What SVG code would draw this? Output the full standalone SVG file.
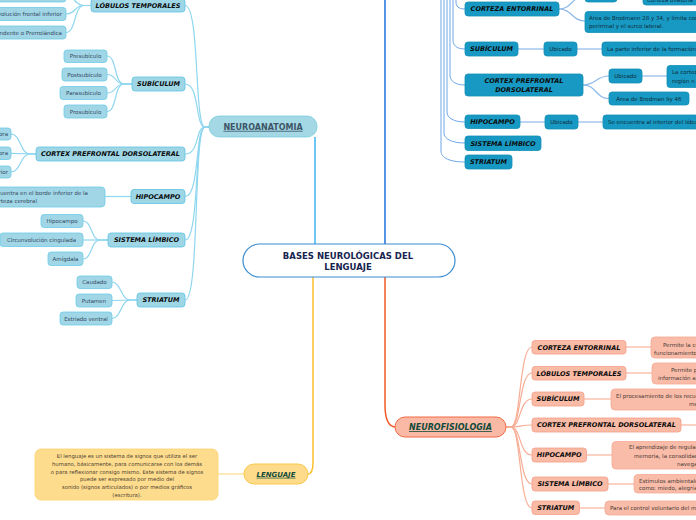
<svg xmlns="http://www.w3.org/2000/svg" width="696" height="520" viewBox="0 0 696 520">
<style>
text{font-family:"DejaVu Sans",Verdana,sans-serif}
.lb{fill:#9ed6e6;stroke:#5ec4e6;stroke-width:0.8}
.lg{fill:#a0d6e6;stroke:#6ccbe8;stroke-width:0.8}
.tl{fill:#1899c3;stroke:#1391b8;stroke-width:0.8}
.pk{fill:#f9baa6;stroke:#f4a088;stroke-width:0.8}
.pg{fill:#f9bca9;stroke:#f6aa92;stroke-width:0.8}
.ch{font-size:6.5px;font-weight:bold;font-style:italic;fill:#0b0b0b;text-anchor:middle}
.g{font-size:5.5px;fill:#34495e;text-anchor:middle}
.gs{font-size:5.5px;fill:#34495e}
.gt{font-size:5.5px;fill:#0e2c3a}
.gp{font-size:5.5px;fill:#4a3a35}
.cb{fill:none;stroke:#8fd6ef;stroke-width:1.2}
.ct{fill:none;stroke:#8bb8e8;stroke-width:1.2}
.cv{fill:none;stroke:#5d9ce6;stroke-width:0.9}
.cp{fill:none;stroke:#f8ae96;stroke-width:1.2}
.cq{fill:none;stroke:#f9c2ae;stroke-width:1.5}
</style>
<rect width="696" height="520" fill="#ffffff"/>
<g id="connectors">
<path d="M315,244 L315,137" fill="none" stroke="#3db3ef" stroke-width="1.5"/>
<path d="M385,244 L385,-5" fill="none" stroke="#1f6fdc" stroke-width="1.5"/>
<path d="M385,277 L385,405 C385,420 389,427 396,427" fill="none" stroke="#f25a27" stroke-width="1.5"/>
<path d="M313,277 L313,462 C313,470 311,474 308,474" fill="none" stroke="#fbc02d" stroke-width="1.5"/>
<path class="cb" d="M209,127 L205,127 C194,127 200,5.5 185,5.5"/>
<path class="cb" d="M209,127 L205,127 C195,127 200,84 185,84"/>
<path class="cb" d="M209,127 L205,127 C195,127 200,154 185,154"/>
<path class="cb" d="M209,127 L205,127 C195,127 200,196.5 185,196.5"/>
<path class="cb" d="M209,127 L205,127 C194,127 200,240 185,240"/>
<path class="cb" d="M209,127 L205,127 C193,127 200,300 185,300"/>
<path class="cb" d="M91,5.5 L84,5.5 C74,5.5 76,-4 66,-4"/>
<path class="cb" d="M91,5.5 L84,5.5 C74,5.5 76,14 66,14"/>
<path class="cb" d="M91,5.5 L84,5.5 C74,5.5 76,32.5 66,32.5"/>
<path class="cb" d="M132,84 L124,84 C114,84 117,56 107,56"/>
<path class="cb" d="M132,84 L124,84 C114,84 117,74.5 107,74.5"/>
<path class="cb" d="M132,84 L124,84 C114,84 117,93 107,93"/>
<path class="cb" d="M132,84 L124,84 C114,84 117,111.5 107,111.5"/>
<path class="cb" d="M36,154 L30,154 C20,154 21,134 11,134"/>
<path class="cb" d="M36,154 L11,153.3"/>
<path class="cb" d="M36,154 L30,154 C20,154 21,172 11,172"/>
<path class="cb" d="M131,196.5 L105,196.5"/>
<path class="cb" d="M108,240 L100,240 C91,240 92,221 83,221"/>
<path class="cb" d="M108,240 L83,240"/>
<path class="cb" d="M108,240 L100,240 C91,240 92,259 83,259"/>
<path class="cb" d="M137,300 L130,300 C121,300 121,282 112,282"/>
<path class="cb" d="M137,300 L112,300.5"/>
<path class="cb" d="M137,300 L130,300 C121,300 121,318.5 112,318.5"/>
<path class="cv" d="M456,-5 L456,2 C456,6 458,9 465,9"/>
<path class="cv" d="M453,-5 L453,40 C453,45 456,49 465,49"/>
<path class="cv" d="M450,-5 L450,75 C450,81 455,85 465,85"/>
<path class="cv" d="M447,-5 L447,112 C447,118 454,122 465,122"/>
<path class="cv" d="M444,-5 L444,133 C444,139 452,143 465,143"/>
<path class="cv" d="M441,-5 L441,151 C441,158 450,162 465,162"/>
<path class="ct" d="M559,9 C572,9 572,-4 585,-4"/>
<path class="ct" d="M559,9 C572,9 572,21 585,21"/>
<path class="ct" d="M617,-4 L643,-4"/>
<path class="ct" d="M517,49 L544,49"/>
<path class="ct" d="M577,49 L602,49"/>
<path class="ct" d="M583,85 C596,85 596,76 609,76"/>
<path class="ct" d="M583,85 C596,85 596,98.5 609,98.5"/>
<path class="ct" d="M642,76 L667,76"/>
<path class="ct" d="M520,122 L545,122"/>
<path class="ct" d="M578,122 L603,122"/>
<path class="cp" d="M506,427 L511,427 C521,427 519,347 532,347"/>
<path class="cp" d="M506,427 L511,427 C521,427 519,373 532,373"/>
<path class="cp" d="M506,427 L511,427 C521,427 519,399 532,399"/>
<path class="cp" d="M506,427 L511,427 C521,427 519,425 532,425"/>
<path class="cp" d="M506,427 L511,427 C521,427 519,455 532,455"/>
<path class="cp" d="M506,427 L511,427 C521,427 519,484 532,484"/>
<path class="cp" d="M506,427 L511,427 C521,427 519,508 532,508"/>
<path class="cq" d="M626,347 L651,347"/>
<path class="cq" d="M626,373 L652,373"/>
<path class="cq" d="M584,399 L611,399"/>
<path class="cq" d="M681,425 L696,425"/>
<path class="cq" d="M586,455 L612,455"/>
<path class="cq" d="M608,484 L634,484"/>
<path class="cq" d="M580,508 L605,508"/>
<path d="M244,474 L218,474" fill="none" stroke="#fde3a0" stroke-width="1.5"/>
</g>
<g id="central">
<rect x="243" y="244" width="212" height="33" rx="16.5" fill="#ffffff" stroke="#3a8cd0" stroke-width="1.2"/>
<text x="348" y="258.5" text-anchor="middle" font-size="8.5" font-weight="bold" fill="#16244f">BASES NEUROLÓGICAS DEL</text>
<text x="348" y="269.5" text-anchor="middle" font-size="8.5" font-weight="bold" fill="#16244f">LENGUAJE</text>
</g>
<g id="neuroanatomia">
<rect x="209" y="116" width="108" height="21" rx="10" fill="#a3d8e4" stroke="#78cde0" stroke-width="0.8"/>
<text x="263" y="129.8" text-anchor="middle" font-size="8" font-weight="bold" fill="#3d5566" text-decoration="underline">NEUROANATOMIA</text>
</g>
<g id="na-lobulos"><rect class="lb" x="91" y="-1" width="94" height="13" rx="3"/><text class="ch" x="138" y="7.8">LÓBULOS TEMPORALES</text></g>
<g id="na-subiculum"><rect class="lb" x="132" y="77" width="53" height="14" rx="3"/><text class="ch" x="158.5" y="86.3">SUBÍCULUM</text></g>
<g id="na-cpd"><rect class="lb" x="36" y="147" width="149" height="14" rx="3"/><text class="ch" x="110.5" y="156.3">CORTEX PREFRONTAL DORSOLATERAL</text></g>
<g id="na-hipocampo"><rect class="lb" x="131" y="189.5" width="54" height="14" rx="3"/><text class="ch" x="158" y="198.8">HIPOCAMPO</text></g>
<g id="na-limbico"><rect class="lb" x="108" y="233" width="77" height="14" rx="3"/><text class="ch" x="146.5" y="242.3">SISTEMA LÍMBICO</text></g>
<g id="na-striatum"><rect class="lb" x="137" y="293" width="48" height="14" rx="3"/><text class="ch" x="161" y="302.3">STRIATUM</text></g>
<g id="na-lt-1"><rect class="lg" x="-20" y="-10" width="86" height="12" rx="3"/></g>
<g id="na-lt-2"><rect class="lg" x="-40" y="7.5" width="106" height="13" rx="3"/><text class="gs" x="62" y="16" text-anchor="end">Circunvolución frontal inferior</text></g>
<g id="na-lt-3"><rect class="lg" x="-80" y="26" width="146" height="13" rx="3"/><text class="gs" x="62" y="34.5" text-anchor="end">Circunvolución ascendente o Prerrolándica</text></g>
<g id="na-sub-1"><rect class="lg" x="64" y="50" width="43" height="12.5" rx="3"/><text class="g" x="85.5" y="58.2">Presubículo</text></g>
<g id="na-sub-2"><rect class="lg" x="62" y="68" width="45" height="13" rx="3"/><text class="g" x="84.5" y="76.5">Postsubículo</text></g>
<g id="na-sub-3"><rect class="lg" x="60" y="86.5" width="47" height="13" rx="3"/><text class="g" x="83.5" y="95">Parasubículo</text></g>
<g id="na-sub-4"><rect class="lg" x="64" y="105" width="43" height="13" rx="3"/><text class="g" x="85.5" y="113.5">Prosubículo</text></g>
<g id="na-cpd-1"><rect class="lg" x="-60" y="128" width="71" height="12" rx="3"/><text class="gs" x="8" y="136" text-anchor="end">Corteza motora</text></g>
<g id="na-cpd-2"><rect class="lg" x="-60" y="147" width="71" height="12.5" rx="3"/><text class="gs" x="8" y="155.3" text-anchor="end">Corteza premotora</text></g>
<g id="na-cpd-3"><rect class="lg" x="-60" y="166" width="71" height="12" rx="3"/><text class="gs" x="8" y="174" text-anchor="end">Giro frontal superior</text></g>
<g id="na-hip-1"><rect class="lg" x="-40" y="187" width="145" height="20" rx="4"/><text class="gs" x="88" y="194.5" text-anchor="end">Se encuentra en el borde inferior de la</text><text class="gs" x="37" y="203" text-anchor="end">corteza cerebral</text></g>
<g id="na-sl-1"><rect class="lg" x="41" y="214.5" width="42" height="13" rx="3"/><text class="g" x="62" y="223">Hipocampo</text></g>
<g id="na-sl-2"><rect class="lg" x="0" y="233" width="83" height="13.5" rx="3"/><text class="g" x="41.5" y="241.8">Circunvolución cingulada</text></g>
<g id="na-sl-3"><rect class="lg" x="48" y="252" width="35" height="13.5" rx="3"/><text class="g" x="65.5" y="260.8">Amígdala</text></g>
<g id="na-str-1"><rect class="lg" x="77" y="276" width="35" height="12.5" rx="3"/><text class="g" x="94.5" y="284.3">Caudado</text></g>
<g id="na-str-2"><rect class="lg" x="76" y="294" width="36" height="13" rx="3"/><text class="g" x="94" y="302.5">Putamen</text></g>
<g id="na-str-3"><rect class="lg" x="60" y="312" width="52" height="13" rx="3"/><text class="g" x="86" y="320.5">Estriado ventral</text></g>
<g id="tr-entorrinal"><rect class="tl" x="465" y="2" width="94" height="14" rx="3"/><text class="ch" x="512" y="11.3">CORTEZA ENTORRINAL</text></g>
<g id="tr-subiculum"><rect class="tl" x="465" y="42" width="53" height="14" rx="3"/><text class="ch" x="491.5" y="51.3">SUBÍCULUM</text></g>
<g id="tr-cpd"><rect class="tl" x="465" y="74" width="118" height="22" rx="3"/><text class="ch" x="524" y="83.3">CORTEX PREFRONTAL</text><text class="ch" x="524" y="92">DORSOLATERAL</text></g>
<g id="tr-hipocampo"><rect class="tl" x="465" y="115" width="55" height="13.5" rx="3"/><text class="ch" x="492.5" y="124">HIPOCAMPO</text></g>
<g id="tr-limbico"><rect class="tl" x="465" y="136" width="76" height="14.5" rx="3"/><text class="ch" x="503" y="145.5">SISTEMA LÍMBICO</text></g>
<g id="tr-striatum"><rect class="tl" x="465" y="155" width="47" height="14" rx="3"/><text class="ch" x="488.5" y="164.3">STRIATUM</text></g>
<g id="tr-ce-1"><rect class="tl" x="585" y="-10" width="32" height="12" rx="3"/></g>
<g id="tr-ce-2"><rect class="tl" x="643" y="-10" width="80" height="15" rx="3"/><text class="gt" x="647" y="2">Corteza olfatoria</text></g>
<g id="tr-ce-3"><rect class="tl" x="585" y="11.5" width="130" height="21" rx="3"/><text class="gt" x="589" y="19.5">Área de Brodmann 28 y 34, y limita con la corteza</text><text class="gt" x="589" y="27.5">perirrinal y el surco lateral.</text></g>
<g id="tr-sub-1"><rect class="tl" x="544" y="42" width="33" height="14" rx="3"/><text class="gt" x="560.5" y="51" text-anchor="middle">Ubicado</text></g>
<g id="tr-sub-2"><rect class="tl" x="602" y="42" width="120" height="14" rx="3"/><text class="gt" x="607" y="51">La parte inferior de la formación del hipocampo</text></g>
<g id="tr-cpd-1"><rect class="tl" x="609" y="69" width="33" height="14" rx="3"/><text class="gt" x="625.5" y="78" text-anchor="middle">Ubicado</text></g>
<g id="tr-cpd-2"><rect class="tl" x="667" y="65.5" width="60" height="22" rx="3"/><text class="gt" x="672" y="74">La corteza</text><text class="gt" x="672" y="82.5">región n</text></g>
<g id="tr-cpd-3"><rect class="tl" x="609" y="92" width="80" height="13" rx="3"/><text class="gt" x="649" y="100.5" text-anchor="middle">Área de Brodman 9y 46</text></g>
<g id="tr-hip-1"><rect class="tl" x="545" y="115" width="33" height="14" rx="3"/><text class="gt" x="561.5" y="124" text-anchor="middle">Ubicado</text></g>
<g id="tr-hip-2"><rect class="tl" x="603" y="115" width="120" height="14" rx="3"/><text class="gt" x="608" y="124">Se encuentra al interior del lóbulo temporal</text></g>
<g id="neurofisiologia">
<rect x="395" y="417" width="111" height="20" rx="10" fill="#f9b9a5" stroke="#f26a44" stroke-width="1"/>
<text x="450.5" y="430" text-anchor="middle" font-size="8" font-weight="bold" font-style="italic" fill="#0f4a3a" text-decoration="underline">NEUROFISIOLOGIA</text>
</g>
<g id="nf-entorrinal"><rect class="pk" x="532" y="340.5" width="94" height="13.5" rx="3"/><text class="ch" x="579" y="349.5">CORTEZA ENTORRINAL</text></g>
<g id="nf-lobulos"><rect class="pk" x="532" y="366.5" width="94" height="13.5" rx="3"/><text class="ch" x="579" y="375.5">LÓBULOS TEMPORALES</text></g>
<g id="nf-subiculum"><rect class="pk" x="532" y="392" width="52" height="14" rx="3"/><text class="ch" x="558" y="401.3">SUBÍCULUM</text></g>
<g id="nf-cpd"><rect class="pk" x="532" y="418" width="149" height="14" rx="3"/><text class="ch" x="606.5" y="427.3">CORTEX PREFRONTAL DORSOLATERAL</text></g>
<g id="nf-hipocampo"><rect class="pk" x="532" y="448" width="54.5" height="14" rx="3"/><text class="ch" x="559.2" y="457.3">HIPOCAMPO</text></g>
<g id="nf-limbico"><rect class="pk" x="532" y="477" width="76" height="14" rx="3"/><text class="ch" x="570" y="486.3">SISTEMA LÍMBICO</text></g>
<g id="nf-striatum"><rect class="pk" x="532" y="501" width="47.5" height="13.5" rx="3"/><text class="ch" x="555.7" y="510">STRIATUM</text></g>
<g id="nf-ce-1"><rect class="pg" x="651" y="337" width="120" height="21" rx="4"/><text class="gp" x="663" y="346.5">Permite la comunicación</text><text class="gp" x="654" y="355.3">funcionamiento de la memoria</text></g>
<g id="nf-lt-1"><rect class="pg" x="652" y="363" width="120" height="21" rx="4"/><text class="gp" x="671" y="372">Permite procesar la</text><text class="gp" x="658" y="379.8">información auditiva</text></g>
<g id="nf-sub-1"><rect class="pg" x="611" y="389" width="120" height="21" rx="4"/><text class="gp" x="616" y="398">El procesamiento de los recuerdos y la</text><text class="gp" x="689" y="406">memoria</text></g>
<g id="nf-hip-1"><rect class="pg" x="612" y="441.5" width="120" height="27.5" rx="4"/><text class="gp" x="629" y="449.3">El aprendizaje de regular la</text><text class="gp" x="634" y="458">memoria, la consolidación y la</text><text class="gp" x="677" y="465.5">navegación espacial</text></g>
<g id="nf-sl-1"><rect class="pg" x="634" y="474.5" width="120" height="18.5" rx="4"/><text class="gp" x="639" y="482.5">Estímulos ambientales que producen emociones</text><text class="gp" x="639" y="490.3">como: miedo, alegría, tristeza</text></g>
<g id="nf-str-1"><rect class="pg" x="605" y="501" width="120" height="14" rx="4"/><text class="gp" x="610" y="509.8">Para el control voluntario del movimiento</text></g>
<g id="lenguaje">
<rect x="244" y="464" width="64" height="20" rx="10" fill="#fedb8b" stroke="#fbc84a" stroke-width="1"/>
<text x="276" y="476.7" text-anchor="middle" font-size="7" font-weight="bold" font-style="italic" fill="#124b3a" text-decoration="underline">LENGUAJE</text>
</g>
<g id="lenguaje-def">
<rect x="35" y="449" width="183" height="51" rx="6" fill="#fedc8e" stroke="#fcd370" stroke-width="0.8"/>
<g font-size="5.3" fill="#4a4030" text-anchor="middle">
<text x="127" y="458">El lenguaje es un sistema de signos que utiliza el ser</text>
<text x="127" y="466">humano, básicamente, para comunicarse con los demás</text>
<text x="127" y="473.5">o para reflexionar consigo mismo. Este sistema de signos</text>
<text x="127" y="481">puede ser expresado por medio del</text>
<text x="127" y="488.5">sonido (signos articulados) o por medios gráficos</text>
<text x="127" y="496.5">(escritura).</text>
</g>
</g>
</svg>
